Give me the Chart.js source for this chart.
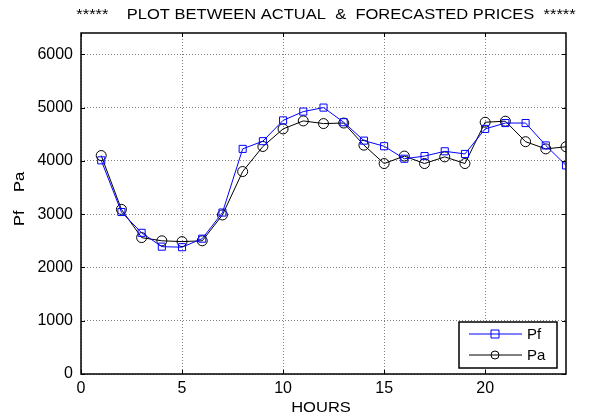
<!DOCTYPE html>
<html>
<head>
<meta charset="utf-8">
<script src="https://cdn.jsdelivr.net/npm/chart.js@4.4.1/dist/chart.umd.min.js"></script>
<style>
  html, body { margin: 0; padding: 0; background: #fff; }
  #wrap { width: 589px; height: 416px; }
</style>
</head>
<body>
<div id="wrap"><canvas id="plot" width="589" height="416"></canvas></div>
<script>
var hours = [1,2,3,4,5,6,7,8,9,10,11,12,13,14,15,16,17,18,19,20,21,22,23,24]
var pf = [4010,3040,2650,2390,2380,2540,3030,4225,4370,4760,4925,5000,4725,4380,4275,4040,4090,4180,4130,4600,4710,4710,4290,3915]
var pa = [4100,3090,2560,2500,2485,2500,2985,3800,4270,4600,4750,4700,4710,4295,3950,4090,3950,4075,3950,4725,4745,4360,4225,4265]
var xTicks = [0,5,10,15,20]
var yTicks = [0,1000,2000,3000,4000,5000,6000]
var titleText = '*****    PLOT BETWEEN ACTUAL  &  FORECASTED PRICES  *****'
var xTitle = 'HOURS'
var yTitle = 'Pf    Pa'

var font = '"Liberation Sans", Arial, sans-serif'

function pts(ys){
  return hours.map(function(h,i){ return {x:h, y:ys[i]} })
}

// text a bit wider than tall, like the original export
function wideText(c, txt, x, y, rot){
  c.save()
  c.translate(x, y)
  if (rot) c.rotate(rot)
  c.scale(1.18, 1)
  c.fillText(txt, 0, 0)
  c.restore()
}

// frame, inner tick marks, titles and legend
var decor = {
  id: 'decor',
  afterDraw: function(chart){
    var c = chart.ctx, a = chart.chartArea
    var xs = chart.scales.x, ys = chart.scales.y
    c.save()
    c.strokeStyle = '#000'
    c.lineWidth = 1.5
    c.strokeRect(a.left, a.top, a.right - a.left, a.bottom - a.top)
    c.lineWidth = 1
    c.beginPath()
    xTicks.forEach(function(v){
      var px = Math.round(xs.getPixelForValue(v)) + 0.5
      c.moveTo(px, a.bottom); c.lineTo(px, a.bottom - 4)
      c.moveTo(px, a.top); c.lineTo(px, a.top + 4)
    })
    yTicks.forEach(function(v){
      var py = Math.round(ys.getPixelForValue(v)) + 0.5
      c.moveTo(a.left, py); c.lineTo(a.left + 4, py)
      c.moveTo(a.right, py); c.lineTo(a.right - 4, py)
    })
    c.stroke()

    c.fillStyle = '#000'
    c.font = '14px ' + font
    c.textAlign = 'center'
    c.textBaseline = 'middle'
    wideText(c, titleText, 326, 15)
    wideText(c, xTitle, 321, 408)
    wideText(c, yTitle, 20, 199, -Math.PI/2)

    // legend box
    var lx = 459, ly = 322, lw = 98, lh = 46
    c.fillStyle = '#fff'
    c.fillRect(lx, ly, lw, lh)
    c.lineWidth = 1.5
    c.strokeStyle = '#000'
    c.strokeRect(lx, ly, lw, lh)
    chart.data.datasets.forEach(function(ds, i){
      var y = ly + 12 + i * 21
      c.strokeStyle = ds.borderColor
      c.lineWidth = 1
      c.beginPath(); c.moveTo(lx + 10, y); c.lineTo(lx + 63, y); c.stroke()
      c.beginPath()
      if (ds.pointStyle === 'rect') c.rect(lx + 32, y - 4, 8, 8)
      else c.arc(lx + 36, y, 4, 0, Math.PI*2)
      c.stroke()
      c.fillStyle = '#000'
      c.textAlign = 'left'
      c.font = '15px ' + font
      c.fillText(ds.label, lx + 68, y + 1)
    })
    c.restore()
  }
}

new Chart(document.getElementById('plot'), {
  type: 'line',
  data: {
    datasets: [{
      label: 'Pf',
      data: pts(pf),
      borderColor: '#0000ff',
      backgroundColor: 'rgba(0,0,0,0)',
      borderWidth: 1,
      pointStyle: 'rect',
      pointRadius: 5,
      pointBorderWidth: 1,
      tension: 0
    },{
      label: 'Pa',
      data: pts(pa),
      borderColor: '#000000',
      backgroundColor: 'rgba(0,0,0,0)',
      borderWidth: 1,
      pointStyle: 'circle',
      pointRadius: 5,
      pointBorderWidth: 1,
      tension: 0
    }]
  },
  options: {
    responsive: false,
    animation: false,
    layout: { padding: { top: 33, right: 23, left: 0, bottom: 0 } },
    plugins: { legend: { display: false }, title: { display: false }, tooltip: { enabled: false } },
    scales: {
      x: {
        type: 'linear', min: 0, max: 24,
        afterBuildTicks: function(s){ s.ticks = xTicks.map(function(v){ return {value:v} }) },
        afterFit: function(s){ s.height = 42 },
        grid: { color: '#808080', drawTicks: false, tickLength: 0 },
        border: { display: false, dash: [1,2] },
        ticks: { color: '#000', padding: 5, maxRotation: 0, font: { size: 16, family: font },
          callback: function(v){ return String(v) } }
      },
      y: {
        min: 0, max: 6400,
        afterBuildTicks: function(s){ s.ticks = yTicks.map(function(v){ return {value:v} }) },
        afterFit: function(s){ s.width = 81 },
        grid: { color: '#808080', drawTicks: false, tickLength: 0 },
        border: { display: false, dash: [1,2] },
        ticks: { color: '#000', padding: 8, font: { size: 16, family: font },
          callback: function(v){ return String(v) } }
      }
    }
  },
  plugins: [decor]
})
</script>
</body>
</html>
